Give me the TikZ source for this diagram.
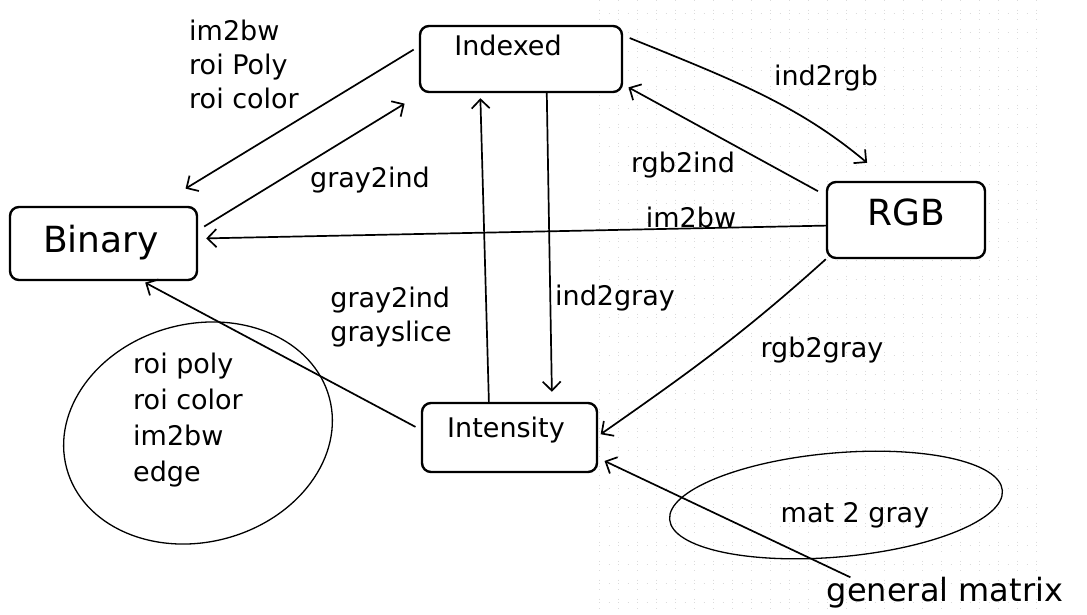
\documentclass[tikz,border=0pt]{standalone}
\usepackage{fontspec}
\setmainfont{DejaVu Sans}
\usetikzlibrary{arrows.meta,calc,shapes.geometric}
\begin{document}
\begin{tikzpicture}[x=1pt,y=1pt,
  box/.style={draw, line width=2.4pt, rounded corners=9pt, inner sep=0pt},
  lab/.style={font=\fontsize{27}{34}\selectfont, inner sep=0pt, align=left},
  big/.style={font=\fontsize{36}{40}\selectfont, inner sep=0pt},
  arr/.style={line width=1.7pt, -{Straight Barb[length=9pt,width=18pt]}},
  ring/.style={draw, line width=1.3pt, ellipse, inner sep=0pt},
  gridline/.style={gray!28, line width=0.6pt, dash pattern=on 0.6pt off 8.9pt}
  ]
\useasboundingbox (0,0) rectangle (1087,-614);
% graph paper
\foreach \gx in {599,618,...,1040} \draw[gridline] (\gx,0) -- (\gx,-614);
\foreach \gy in {-13,-32,...,-614} \draw[gridline] (599,\gy) -- (1040,\gy);

% boxes
\node[box, minimum width=202, minimum height=66, fill=white] (ind) at (521,-59) {};
\node[box, minimum width=158, minimum height=76, fill=white] (rgb) at (906,-220) {};
\node[box, minimum width=187, minimum height=73, fill=white] (bin) at (103.5,-243.5) {};
\node[box, minimum width=175, minimum height=69, fill=white] (int) at (509.5,-437.5) {};
\node[lab] (tind) at (508,-45) {Indexed};
\node[big] (trgb) at (906,-212) {RGB};
\node[big] (tbin) at (101,-243) {Binary};
\node[lab] (tint) at (506,-430) {Intensity};

% ellipses
\node[ring, minimum width=272, minimum height=218, rotate=15] (circ) at (198,-433) {};
\node[ring, minimum width=334, minimum height=104, rotate=5] (oval) at (836,-505) {};

% labels
\node[lab] (l1) at (244,-64) {im2bw\\roi Poly\\roi color};
\node[lab] (l2) at (370,-180) {gray2ind};
\node[lab] (l3) at (691,-217) {im2bw};
\node[lab] (l4) at (826,-78) {ind2rgb};
\node[lab] (l5) at (683,-165) {rgb2ind};
\node[lab] (l6) at (391,-317) {gray2ind\\grayslice};
\node[lab] (l7) at (615,-298) {ind2gray};
\node[lab] (l8) at (822,-350) {rgb2gray};
\node[lab, font=\fontsize{27}{36}\selectfont] (l9) at (188,-420) {roi poly\\roi color\\im2bw\\edge};
\node[lab] (l10) at (855,-515) {mat 2 gray};
\node[lab, font=\fontsize{32}{36}\selectfont] (gm) at (945,-593) {general matrix};

% connectors
\draw[arr, shorten <=6pt, shorten >=33pt] (ind.173) -- (bin.35);
\draw[arr, shorten <=7pt, shorten >=20pt] (bin.8) -- (ind.199);
\draw[arr, shorten >=8pt] (rgb.184) -- (bin.3);
\draw[arr, shorten <=7pt, shorten >=28pt] (ind.13) to[out=-22, in=140] (rgb.114);
\draw[arr, shorten <=9pt, shorten >=6pt] (rgb.163) -- (ind.-14);
\draw[arr, shorten >=5pt] (int.120) -- (ind.220);
\draw[arr, shorten >=10pt] (ind.-53) -- (int.40);
\draw[arr, shorten >=3pt] (rgb.south west) to[out=222, in=35] (int.1.5);
\draw[arr, shorten <=6pt, shorten >=3pt] (int.175) -- (bin.-44);
\draw[arr, shorten >=7pt] ($(gm.north west)!0.1!(gm.north east)$) -- (int.-13);
\end{tikzpicture}
\end{document}
